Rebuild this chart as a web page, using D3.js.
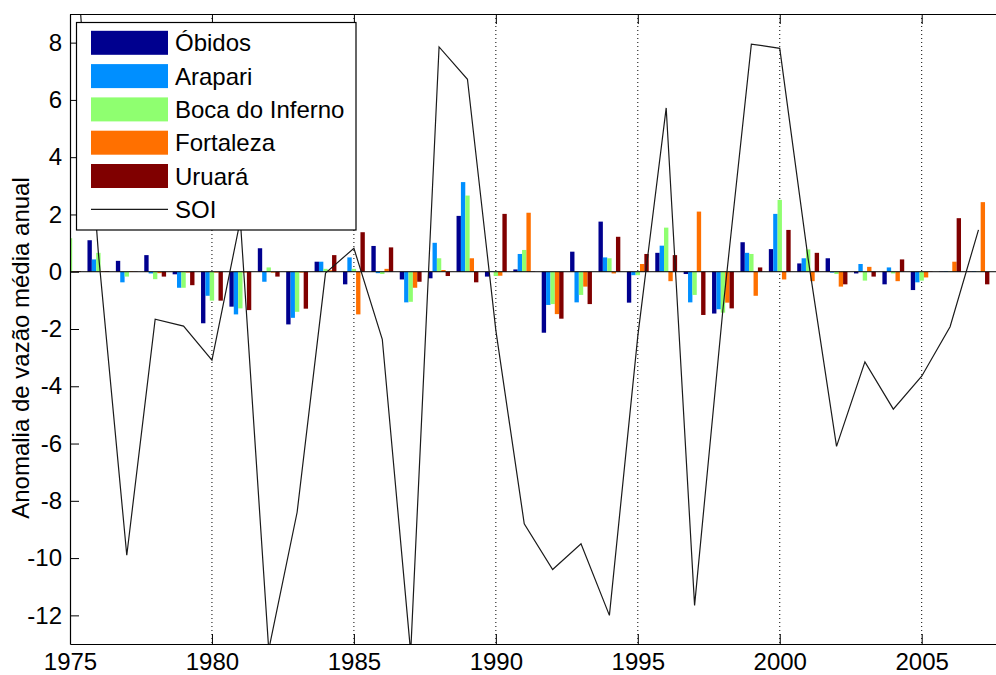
<!DOCTYPE html>
<html>
<head>
<meta charset="utf-8">
<script src="https://cdn.jsdelivr.net/npm/d3@7"></script>
<style>
body { margin: 0; background: #fff; }
text { font-family: Arial, "Liberation Sans", sans-serif; }
</style>
</head>
<body>
<script>
// anos (eixo x)
var years = [1975, 1976, 1977, 1978, 1979, 1980, 1981, 1982, 1983, 1984, 1985,
             1986, 1987, 1988, 1989, 1990, 1991, 1992, 1993, 1994, 1995, 1996,
             1997, 1998, 1999, 2000, 2001, 2002, 2003, 2004, 2005, 2006, 2007];

// anomalias de vazão por estação
var obidos    = [0, 1.1, 0.38, 0.58, -0.09, -1.8, -1.22, 0.82, -1.84, 0.35, -0.44,
                 0.9, -0.27, -0.23, 1.95, -0.17, 0.08, -2.13, 0.7, 1.75, -1.08, 0.66,
                 -0.08, -1.46, 1.03, 0.79, 0.29, 0.47, -0.06, -0.44, -0.64, 0.01, 0.01];
var arapari   = [0, 0.43, -0.37, -0.06, -0.56, -0.84, -1.49, -0.35, -1.61, 0.35, 0.5,
                 -0.05, -1.07, 1.01, 3.13, 0.02, 0.62, -1.16, -1.07, 0.5, -0.12, 0.91,
                 -1.07, -1.31, 0.66, 2.02, 0.47, -0.03, 0.27, 0.15, -0.37, 0.02, 0.02];
var bocaDoInferno = [1.17, 0.66, -0.17, -0.26, -0.56, -1.01, -1.28, 0.15, -1.4, 0.1, 0.1,
                 -0.08, -1.05, 0.47, 2.66, -0.15, 0.76, -1.13, -0.81, 0.47, -0.12, 1.54,
                 -0.81, -1.43, 0.62, 2.51, 0.78, -0.08, -0.31, -0.06, -0.31, 0.01, 0.01];
var fortaleza = [0.02, 0.02, 0.02, -0.05, -0.03, -0.03, -0.03, -0.03, -0.03, 0.05, -1.49,
                 0.1, -0.56, 0.06, 0.47, -0.14, 2.06, -1.48, -0.52, -0.06, 0.27, -0.33,
                 2.1, -1.08, -0.84, -0.27, -0.33, -0.52, 0.17, -0.33, -0.2, 0.35, 2.43];
var uruara    = [0.02, 0.02, 0.01, -0.17, -0.47, -1.01, -1.34, -0.17, -1.29, 0.58, 1.38,
                 0.85, -0.35, -0.15, -0.37, 2.02, 0.01, -1.64, -1.13, 1.22, 0.62, 0.58,
                 -1.51, -1.28, 0.15, 1.46, 0.66, -0.44, -0.17, 0.43, 0.01, 1.87, -0.44];

// índice de oscilação sul
var soi = [14, 0.65, -9.9, -1.66, -1.9, -3.09, 1.8, -13.2, -8.4, -0.05, 0.82,
           -2.36, -13.3, 7.85, 6.72, -2.05, -8.8, -10.4, -9.5, -12.0, -2.25, 5.72,
           -11.65, -1.3, 7.95, 7.8, 0.45, -6.1, -3.15, -4.8, -3.65, -1.92, 1.46];

var seriesNames = ["Óbidos", "Arapari", "Boca do Inferno", "Fortaleza", "Uruará"];
var seriesColors = ["#00008f", "#008fff", "#8fff70", "#ff7000", "#800000"];
var seriesValues = [obidos, arapari, bocaDoInferno, fortaleza, uruara];

var xTicks = [1975, 1980, 1985, 1990, 1995, 2000, 2005];
var yTicks = [-12, -10, -8, -6, -4, -2, 0, 2, 4, 6, 8];

var width = 996, height = 675;
var plotLeft = 70, plotTop = 14, plotBottom = 644;
var plotRight = plotLeft + 33 * 28.39;

var svg = d3.select("body")
    .append("svg")
    .attr("width", width)
    .attr("height", height);

var x = d3.scaleLinear().domain([1975, 2008]).range([plotLeft, plotRight]);
var y = d3.scaleLinear().domain([-13, 9]).range([plotBottom, plotTop]);

svg.append("clipPath")
    .attr("id", "plot")
  .append("rect")
    .attr("x", plotLeft)
    .attr("y", plotTop)
    .attr("width", plotRight - plotLeft)
    .attr("height", plotBottom - plotTop);

// grade vertical pontilhada
svg.append("g")
    .selectAll("line")
    .data(xTicks.slice(1))
    .enter().append("line")
    .attr("x1", function(d) { return x(d); })
    .attr("x2", function(d) { return x(d); })
    .attr("y1", plotTop)
    .attr("y2", plotBottom)
    .style("stroke", "#000")
    .style("stroke-width", 1)
    .style("stroke-dasharray", "1,3");

// barras agrupadas
var slot = 0.769 / 5;
var plot = svg.append("g").attr("clip-path", "url(#plot)");

seriesValues.forEach(function(vals, i) {
  plot.append("g")
      .selectAll("rect")
      .data(vals)
      .enter().append("rect")
      .attr("x", function(d, j) { return x(years[j] + (i - 2.5) * slot); })
      .attr("width", x(1975 + slot) - x(1975))
      .attr("y", function(d) { return y(Math.max(0, d)); })
      .attr("height", function(d) { return Math.abs(y(d) - y(0)); })
      .attr("fill", seriesColors[i]);
});

// linha de base
plot.append("line")
    .attr("x1", plotLeft)
    .attr("x2", plotRight)
    .attr("y1", y(0))
    .attr("y2", y(0))
    .style("stroke", "#000")
    .style("stroke-width", 1);

// SOI
var line = d3.line()
    .x(function(d, j) { return x(years[j]); })
    .y(function(d) { return y(d); });

plot.append("path")
    .datum(soi)
    .attr("d", line)
    .style("fill", "none")
    .style("stroke", "#1a1a1a")
    .style("stroke-width", 1.2);

// eixos
var plain = function(d) { return String(d); };

var xAxis = svg.append("g")
    .attr("transform", "translate(0," + plotBottom + ")")
    .call(d3.axisBottom(x).tickValues(xTicks).tickFormat(plain)
      .tickSizeInner(-10).tickSizeOuter(0).tickPadding(9));

var xTop = svg.append("g")
    .attr("transform", "translate(0," + plotTop + ")")
    .call(d3.axisTop(x).tickValues(xTicks).tickFormat("")
      .tickSizeInner(-10).tickSizeOuter(0));

var yAxis = svg.append("g")
    .attr("transform", "translate(" + plotLeft + ",0)")
    .call(d3.axisLeft(y).tickValues(yTicks).tickFormat(plain)
      .tickSizeInner(-9).tickSizeOuter(0).tickPadding(8));

[xAxis, xTop, yAxis].forEach(function(g) {
  g.selectAll(".domain").style("stroke", "#000").style("stroke-width", 1.2);
  g.selectAll(".tick line").style("stroke", "#000");
  g.selectAll("text")
      .attr("font-size", 24)
      .attr("font-family", "Arial, 'Liberation Sans', sans-serif")
      .attr("fill", "#000");
});

svg.append("text")
    .attr("transform", "translate(29,348) rotate(-90)")
    .attr("text-anchor", "middle")
    .style("font-size", "24px")
    .text("Anomalia de vazão média anual");

// legenda
var legend = svg.append("g");

legend.append("rect")
    .attr("x", 76.5)
    .attr("y", 22.5)
    .attr("width", 279.5)
    .attr("height", 207.5)
    .attr("fill", "#fff")
    .style("stroke", "#000")
    .style("stroke-width", 1.2);

var rowY = function(i) { return 42.8 + i * 33.3; };

legend.selectAll(".swatch")
    .data(seriesColors)
    .enter().append("rect")
    .attr("class", "swatch")
    .attr("x", 91)
    .attr("y", function(d, i) { return rowY(i) - 12; })
    .attr("width", 77)
    .attr("height", 24)
    .attr("fill", function(d) { return d; });

legend.append("line")
    .attr("x1", 91)
    .attr("x2", 168)
    .attr("y1", rowY(5))
    .attr("y2", rowY(5))
    .style("stroke", "#1a1a1a")
    .style("stroke-width", 1.2);

legend.selectAll(".label")
    .data(seriesNames.concat(["SOI"]))
    .enter().append("text")
    .attr("class", "label")
    .attr("x", 175)
    .attr("y", function(d, i) { return rowY(i); })
    .attr("dy", "0.36em")
    .style("font-size", "24px")
    .text(function(d) { return d; });
</script>
</body>
</html>
